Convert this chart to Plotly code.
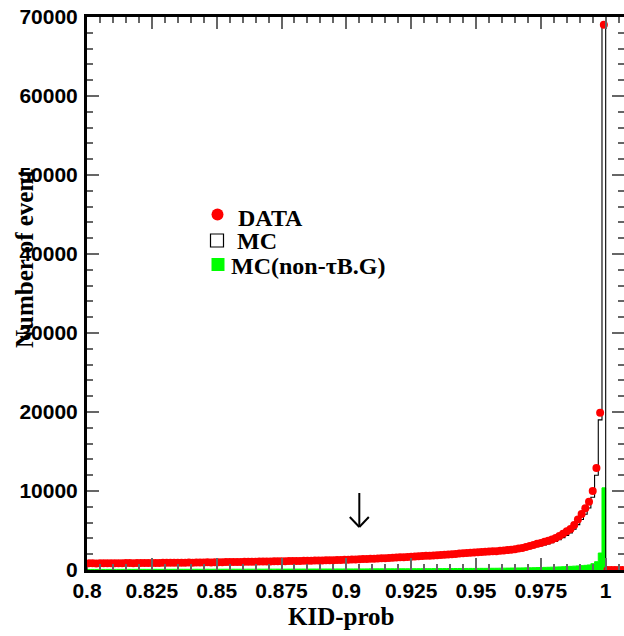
import numpy as np
import plotly.graph_objects as go

# ---------------- data ----------------
X_MIN, X_MAX = 0.8, 1.00706
Y_MAX = 70000
BIN_LO = 0.8
BIN_W = 0.2 / 140

DATA = [
    840, 852, 836, 861, 847, 856, 868, 851, 864, 859,
    872, 879, 866, 884, 876, 889, 882, 894, 899, 891,
    904, 911, 902, 918, 914, 928, 924, 938, 933, 948,
    953, 961, 968, 964, 979, 988, 984, 999, 1008, 1004,
    1018, 1027, 1036, 1033, 1047, 1056, 1063, 1072, 1070, 1083,
    1092, 1101, 1108, 1117, 1124, 1133, 1140, 1149, 1158, 1168,
    1178, 1189, 1198, 1209, 1222, 1233, 1248, 1259, 1273, 1288,
    1299, 1318, 1337, 1356, 1378, 1396, 1418, 1437, 1458, 1479,
    1497, 1522, 1548, 1574, 1601, 1623, 1652, 1678, 1704, 1731,
    1757, 1788, 1818, 1851, 1879, 1912, 1938, 1972, 2008, 2041,
    2078, 2109, 2148, 2181, 2218, 2249, 2282, 2309, 2338, 2361,
    2382, 2421, 2468, 2523, 2579, 2642, 2711, 2789, 2897, 3038,
    3152, 3308, 3429, 3561, 3702, 3848, 4052, 4298, 4603, 4902,
    5204, 5712, 6398, 7102, 7804, 8653, 10012, 12896, 19904, 69010,
    0, 0, 0, 0, 0,
]

MC = [
    845, 848, 842, 855, 850, 853, 862, 856, 860, 864,
    868, 876, 872, 880, 879, 885, 886, 890, 896, 895,
    900, 907, 906, 914, 917, 923, 927, 933, 936, 943,
    950, 956, 962, 967, 974, 981, 987, 994, 1001, 1007,
    1014, 1021, 1029, 1035, 1042, 1050, 1057, 1065, 1073, 1080,
    1088, 1096, 1104, 1113, 1121, 1130, 1139, 1148, 1157, 1166,
    1176, 1186, 1196, 1206, 1217, 1228, 1239, 1251, 1263, 1276,
    1289, 1302, 1316, 1330, 1345, 1360, 1376, 1392, 1409, 1426,
    1444, 1462, 1481, 1501, 1521, 1542, 1564, 1586, 1609, 1633,
    1657, 1682, 1708, 1735, 1762, 1790, 1819, 1849, 1880, 1911,
    1990, 2020, 2060, 2090, 2120, 2150, 2170, 2190, 2210, 2230,
    2250, 2280, 2310, 2350, 2390, 2440, 2490, 2550, 2630, 2740,
    2840, 2960, 3070, 3180, 3300, 3440, 3610, 3830, 4100, 4380,
    4700, 5150, 5750, 6400, 7050, 7850, 9200, 12000, 19000, 69000,
    0, 0, 0, 0, 0,
]

MC_BG = [
    70, 75, 72, 78, 74, 76, 80, 77, 79, 81,
    78, 82, 80, 84, 83, 85, 82, 86, 88, 85,
    87, 89, 86, 90, 88, 91, 93, 90, 92, 94,
    92, 95, 97, 94, 96, 99, 97, 100, 98, 102,
    100, 103, 101, 105, 104, 106, 108, 105, 109, 111,
    110, 112, 114, 111, 115, 117, 116, 119, 121, 118,
    122, 124, 121, 126, 128, 125, 130, 132, 129, 134,
    136, 133, 138, 140, 137, 142, 145, 143, 148, 150,
    147, 152, 155, 153, 158, 160, 157, 163, 166, 164,
    169, 172, 170, 175, 178, 176, 182, 185, 183, 189,
    192, 190, 196, 200, 198, 205, 209, 207, 214, 219,
    222, 228, 233, 238, 245, 251, 258, 266, 275, 284,
    294, 305, 317, 330, 344, 359, 376, 394, 414, 436,
    460, 487, 517, 551, 590, 640, 800, 1050, 2150, 10400,
    0, 0, 0, 0, 0,
]

X_TICKS = [0.8, 0.825, 0.85, 0.875, 0.9, 0.925, 0.95, 0.975, 1.0]
X_TICK_LABELS = ["0.8", "0.825", "0.85", "0.875", "0.9", "0.925", "0.95", "0.975", "1"]
Y_TICKS = [0, 10000, 20000, 30000, 40000, 50000, 60000, 70000]
Y_TICK_LABELS = ["0", "10000", "20000", "30000", "40000", "50000", "60000", "70000"]

LEGEND_LABELS = ["DATA", "MC", "MC(non-\u03c4B.G)"]
ARROW_X = 0.905
ARROW_TIP_Y = 5440

# ---------------- layout constants (pixels) ----------------
W, H = 624, 636
PL, PR, PT, PB = 87, 624, 17, 570


def pxp(px):
    return (px - PL) / (PR - PL)


def pyp(py):
    return (PB - py) / (PB - PT)


def px_dx(dpx):
    return dpx / (PR - PL) * (X_MAX - X_MIN)


def py_dy(dpy):
    return dpy / (PB - PT) * Y_MAX


n = len(DATA)
edges = BIN_LO + np.arange(n + 1) * BIN_W
centers = edges[:-1] + BIN_W / 2

fig = go.Figure()

# green non-tau background (filled histogram)
fig.add_trace(go.Scatter(
    x=edges, y=np.append(MC_BG, MC_BG[-1]), mode="lines",
    line=dict(shape="hv", color="#00ff00", width=1),
    fill="tozeroy", fillcolor="#00ff00", hoverinfo="skip",
))

# MC outline histogram
fig.add_trace(go.Scatter(
    x=np.concatenate([[edges[0]], edges]),
    y=np.concatenate([[0], MC, [MC[-1]]]), mode="lines",
    line=dict(shape="hv", color="black", width=1.1), hoverinfo="skip",
))

# data points
fig.add_trace(go.Scatter(
    x=centers, y=DATA, mode="markers",
    marker=dict(color="#ff0000", size=8, line=dict(width=0)),
))

# dummy trace to enable the right-hand tick axis
fig.add_trace(go.Scatter(
    x=centers, y=MC, mode="lines", line=dict(width=0, color="rgba(0,0,0,0)"),
    yaxis="y2", hoverinfo="skip",
))

tick_font = dict(family="Liberation Sans, Arial", size=21, color="black", weight="bold")
tickcol = "#666666"

fig.update_layout(
    width=W, height=H,
    margin=dict(l=PL, r=W - PR, t=PT, b=H - PB),
    plot_bgcolor="white", paper_bgcolor="white",
    showlegend=False,
    xaxis=dict(
        range=[X_MIN, X_MAX], showline=True, linecolor="black", linewidth=3,
        mirror="ticks", ticks="inside", ticklen=12, tickwidth=1.5, tickcolor=tickcol,
        tickvals=X_TICKS, ticktext=X_TICK_LABELS, tickfont=tick_font,
        minor=dict(dtick=0.005, tick0=0.8, ticks="inside", ticklen=6,
                   tickwidth=1.5, tickcolor=tickcol),
        showgrid=False, zeroline=False, ticklabelstandoff=0,
    ),
    yaxis=dict(
        range=[0, Y_MAX], showline=True, linecolor="black", linewidth=3,
        ticks="inside", ticklen=12, tickwidth=1.5, tickcolor=tickcol,
        tickvals=Y_TICKS, ticktext=Y_TICK_LABELS, tickfont=tick_font,
        minor=dict(dtick=2000, tick0=0, ticks="inside", ticklen=6,
                   tickwidth=1.5, tickcolor=tickcol),
        showgrid=False, zeroline=False, ticklabelstandoff=2,
    ),
    yaxis2=dict(
        range=[0, Y_MAX], overlaying="y", side="right", showline=False,
        ticks="inside", ticklen=12, tickwidth=1.5, tickcolor=tickcol,
        tickvals=Y_TICKS, showticklabels=False,
        minor=dict(dtick=2000, tick0=0, ticks="inside", ticklen=6,
                   tickwidth=1.5, tickcolor=tickcol),
        showgrid=False, zeroline=False,
    ),
)

serif_title = dict(family="Liberation Serif, Times New Roman", size=25, color="black", weight="bold")
serif_leg = dict(family="Liberation Serif, Times New Roman", size=24, color="black", weight="bold")

annotations = [
    dict(text="KID-prob", x=pxp(341), y=pyp(616), xref="paper", yref="paper",
         showarrow=False, font=serif_title, xanchor="center", yanchor="middle"),
    dict(text="Number of event", x=pxp(24), y=pyp(259), xref="paper", yref="paper",
         showarrow=False, font=serif_title, textangle=-90,
         xanchor="center", yanchor="middle"),
    dict(text=LEGEND_LABELS[0], x=pxp(236), y=pyp(218), xref="paper", yref="paper",
         showarrow=False, font=serif_leg, xanchor="left", yanchor="middle"),
    dict(text=LEGEND_LABELS[1], x=pxp(235), y=pyp(241), xref="paper", yref="paper",
         showarrow=False, font=serif_leg, xanchor="left", yanchor="middle"),
    dict(text=LEGEND_LABELS[2], x=pxp(229), y=pyp(266), xref="paper", yref="paper",
         showarrow=False, font=serif_leg, xanchor="left", yanchor="middle"),
]
fig.update_layout(annotations=annotations)

shapes = [
    # legend symbols
    dict(type="circle", xref="paper", yref="paper",
         x0=pxp(211.5), x1=pxp(223.5), y0=pyp(220.5), y1=pyp(208.5),
         fillcolor="#ff0000", line=dict(width=0)),
    dict(type="rect", xref="paper", yref="paper",
         x0=pxp(210.5), x1=pxp(223.5), y0=pyp(247), y1=pyp(234),
         fillcolor="white", line=dict(color="black", width=1.2)),
    dict(type="rect", xref="paper", yref="paper",
         x0=pxp(211.5), x1=pxp(224.5), y0=pyp(271), y1=pyp(258),
         fillcolor="#00ff00", line=dict(width=0)),
    # cut arrow
    dict(type="line", xref="x", yref="y", x0=ARROW_X, x1=ARROW_X,
         y0=ARROW_TIP_Y, y1=ARROW_TIP_Y + py_dy(34), line=dict(color="black", width=2)),
    dict(type="line", xref="x", yref="y", x0=ARROW_X - px_dx(9.5), x1=ARROW_X,
         y0=ARROW_TIP_Y + py_dy(10), y1=ARROW_TIP_Y, line=dict(color="black", width=2)),
    dict(type="line", xref="x", yref="y", x0=ARROW_X + px_dx(9.5), x1=ARROW_X,
         y0=ARROW_TIP_Y + py_dy(10), y1=ARROW_TIP_Y, line=dict(color="black", width=2)),
]
fig.update_layout(shapes=shapes)

fig.write_html("out.html")
